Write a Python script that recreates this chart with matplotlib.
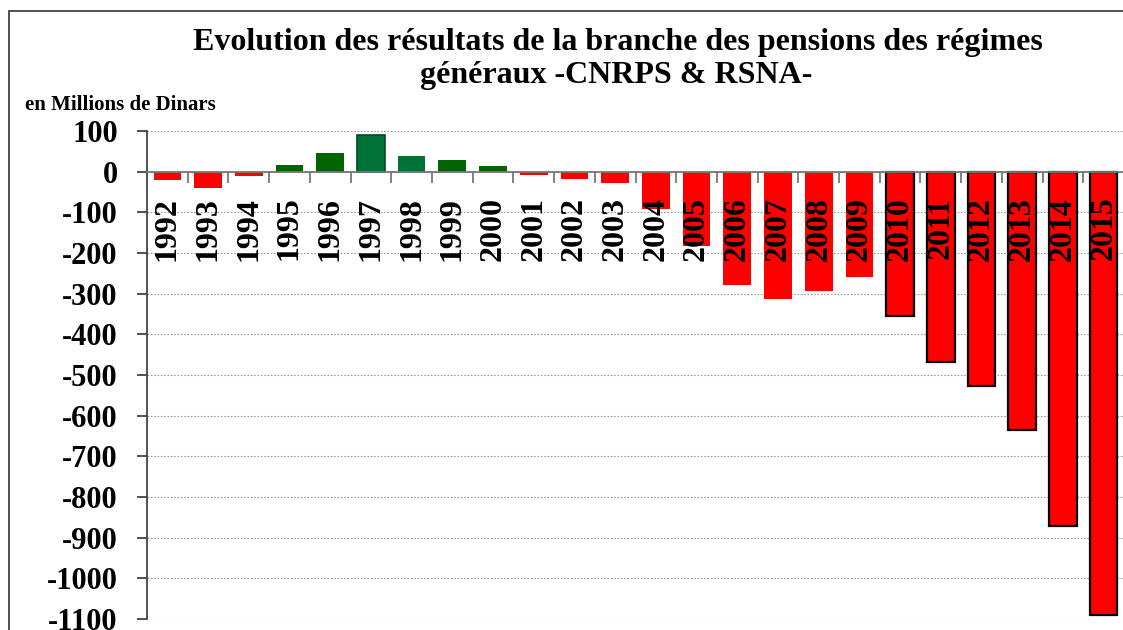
import matplotlib
matplotlib.use("Agg")
import matplotlib.pyplot as plt
from matplotlib.patches import Rectangle
from matplotlib.ticker import FixedLocator

# ---- data ----
years = [str(y) for y in range(1992, 2016)]
values = [-20, -40, -10, 16, 47, 90, 39, 28, 14, -7, -17, -28,
          -92, -182, -279, -312, -293, -259, -356, -468, -528, -635, -871, -1091]
title_lines = ["Evolution des résultats de la branche des pensions des régimes",
               "généraux -CNRPS & RSNA-"]
unit_label = "en Millions de Dinars"
y_ticks = list(range(-1100, 101, 100))

# ---- styles ----
RED = "#FF0000"
GREEN = "#006400"
TEAL = "#007236"
fill = []
edge = []
lw = []
for y, v in zip(years, values):
    if v >= 0:
        fill.append(TEAL if y in ("1997", "1998") else GREEN)
        edge.append("#004d1a" if y == "1997" else fill[-1])
        lw.append(1.2 if y == "1997" else 0.0)
    else:
        fill.append(RED)
        if int(y) >= 2010:
            edge.append("black"); lw.append(1.6)
        else:
            edge.append(RED); lw.append(0.0)

plt.rcParams["font.family"] = ["Liberation Serif", "DejaVu Serif"]
plt.rcParams["font.weight"] = "bold"

W, H = 1123, 630
fig = plt.figure(figsize=(W / 100, H / 100), dpi=100)

# outer frame (cropped on right and bottom)
fig.patches.append(Rectangle((9 / W, -0.1), 1.2, 1 - 11 / H + 0.1,
                             transform=fig.transFigure, fill=False,
                             edgecolor="#333333", linewidth=1.2, zorder=0))

ax = fig.add_axes([147 / W, 1 - 619 / H, (1124 - 147) / W, (619 - 131) / H])

x = list(range(len(years)))
ax.bar(x, values, width=0.68, color=fill, edgecolor=edge, linewidth=lw, zorder=3)

ax.set_xlim(-0.5, len(years) - 0.5)
ax.set_ylim(-1100, 100)

# y axis
ax.yaxis.set_major_locator(FixedLocator(y_ticks))
ax.set_yticklabels([str(t) for t in y_ticks])
ax.tick_params(axis="y", direction="out", length=7, width=1.3, color="#444444",
               pad=14, labelsize=22)
for lab in ax.get_yticklabels():
    lab.set_fontweight("bold")

ax.grid(axis="y", linestyle=(0, (1.5, 1.5)), color="#999999", linewidth=0.8, zorder=0)

# spines
for s in ("top", "right"):
    ax.spines[s].set_visible(False)
ax.spines["left"].set_color("#444444")
ax.spines["left"].set_linewidth(1.3)
ax.spines["bottom"].set_position(("data", 0))
ax.spines["bottom"].set_color("#777777")
ax.spines["bottom"].set_linewidth(1.3)
ax.spines["bottom"].set_zorder(4)

# x axis: ticks at category boundaries, labels at centers (drawn over bars)
ax.xaxis.set_major_locator(FixedLocator([i + 0.5 for i in x[:-1]]))
ax.xaxis.set_minor_locator(FixedLocator(x))
ax.set_xticklabels([], minor=False)
ax.set_xticklabels(years, minor=True, rotation=90, fontsize=23, fontweight="bold")
ax.tick_params(axis="x", which="major", direction="out", length=8, width=1.3,
               color="#777777")
ax.tick_params(axis="x", which="minor", length=0, pad=18)
ax.xaxis.set_zorder(5)

# title and unit label
fig.text(618 / W, 1 - 50 / H, title_lines[0], ha="center", va="baseline",
         fontsize=23, fontweight="bold")
fig.text(616 / W, 1 - 83 / H, title_lines[1], ha="center", va="baseline",
         fontsize=23, fontweight="bold")
fig.text(25 / W, 1 - 110 / H, unit_label, ha="left", va="baseline", fontsize=15,
         fontweight="bold")

fig.savefig("out.png", dpi=100)
